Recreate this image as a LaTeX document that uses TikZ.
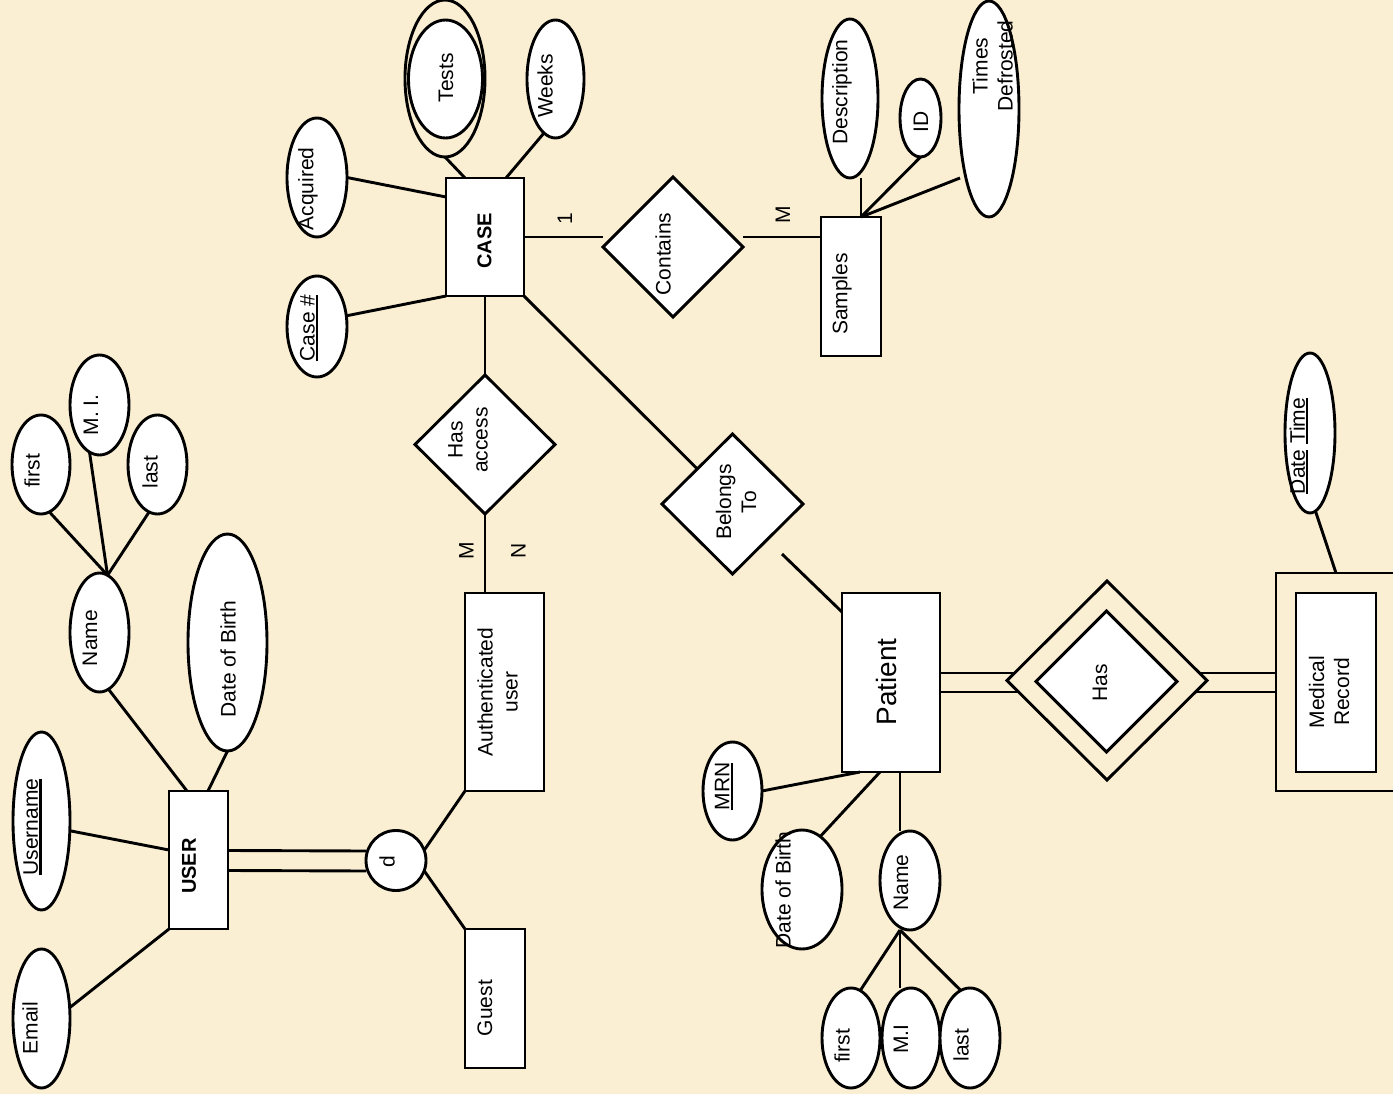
\documentclass[tikz,border=0pt]{standalone}
\usepackage{fontspec}
\setmainfont{Liberation Sans}
\usepackage{graphicx}
\usetikzlibrary{shapes.geometric}
\definecolor{bg}{RGB}{251,239,211}
\newcommand\myul[1]{\setbox0\hbox{#1}\rlap{\rule[-3.6pt]{\wd0}{2.2pt}}\box0\relax}
\newcommand\fs{\fontsize{21pt}{25pt}\selectfont}
\begin{document}
\begin{tikzpicture}[x=1pt,y=-1pt,
  ln/.style={line width=2.9pt},
  attr/.style={ellipse, draw, line width=2.9pt, fill=white, inner sep=0pt, outer sep=0pt},
  ent/.style={rectangle, draw, line width=2.9pt, fill=white, inner sep=0pt, outer sep=0pt},
  rel/.style={diamond, draw, line width=2.9pt, fill=white, inner sep=0pt, outer sep=0pt},
  lbl/.style={rotate=90, inner sep=0pt, font=\fs, align=center, text=black},
  ]
\useasboundingbox (0,0) rectangle (1393,1094);
\clip (0,0) rectangle (1393,1094);
\fill[bg] (0,0) rectangle (1393,1094);

% ---------- attributes (ellipses) ----------
\node[attr, fill=none, minimum width=80pt, minimum height=157pt] (testsout) at (445,78.5) {};
\node[attr, minimum width=74pt, minimum height=118pt] (tests) at (445.5,79) {};
\node[attr, minimum width=57pt, minimum height=118pt] (weeks) at (555.5,79) {};
\node[attr, minimum width=60pt, minimum height=119pt] (acq) at (317,177.5) {};
\node[attr, minimum width=60pt, minimum height=101pt] (casenum) at (317,326.5) {};
\node[attr, minimum width=56pt, minimum height=159pt] (desc) at (850,98.5) {};
\node[attr, minimum width=41pt, minimum height=78pt] (sid) at (920.5,118) {};
\node[attr, minimum width=60pt, minimum height=216pt] (times) at (989,109) {};
\node[attr, minimum width=58pt, minimum height=99pt] (ufirst) at (41,464.5) {};
\node[attr, minimum width=59pt, minimum height=100pt] (umi) at (99.5,405) {};
\node[attr, minimum width=59pt, minimum height=99pt] (ulast) at (157.5,464.5) {};
\node[attr, minimum width=59pt, minimum height=119pt] (uname) at (99.5,632.5) {};
\node[attr, minimum width=79pt, minimum height=217pt] (udob) at (227.5,642.5) {};
\node[attr, minimum width=57pt, minimum height=178pt] (uusername) at (41.5,821) {};
\node[attr, minimum width=57pt, minimum height=139pt] (uemail) at (41.5,1018.5) {};
\node[attr, minimum width=59pt, minimum height=98pt] (mrn) at (732.5,791) {};
\node[attr, minimum width=80pt, minimum height=119pt] (pdob) at (802,889.5) {};
\node[attr, minimum width=60pt, minimum height=99pt] (pname) at (910,880.5) {};
\node[attr, minimum width=58pt, minimum height=100pt] (pfirst) at (851,1038) {};
\node[attr, minimum width=58pt, minimum height=100pt] (pmi) at (911,1038) {};
\node[attr, minimum width=60pt, minimum height=100pt] (plast) at (970,1038) {};
\node[attr, minimum width=50pt, minimum height=160pt] (dtime) at (1310,433) {};
\node[circle, draw, line width=2.9pt, fill=white, inner sep=0pt, outer sep=0pt, minimum size=60pt] (disj) at (396,860.5) {};

% ---------- entities ----------
\node[ent, minimum width=78pt, minimum height=118pt] (case) at (485,237) {};
\node[ent, minimum width=60pt, minimum height=139pt] (samples) at (851,286.5) {};
\node[ent, minimum width=59pt, minimum height=138pt] (user) at (198.5,860) {};
\node[ent, minimum width=79pt, minimum height=198pt] (auth) at (504.5,692) {};
\node[ent, minimum width=60pt, minimum height=139pt] (guest) at (495,998.5) {};
\node[ent, minimum width=98pt, minimum height=179pt] (patient) at (891,682.5) {};
\node[ent, fill=none, minimum width=144pt, minimum height=218pt] (mrout) at (1348,682) {};
\node[ent, minimum width=80pt, minimum height=179pt] (mr) at (1336,682.5) {};

% ---------- relationships ----------
\node[rel, minimum width=140pt, minimum height=140pt] (contains) at (673,247) {};
\node[rel, minimum width=140pt, minimum height=139pt] (hasacc) at (485,444.5) {};
\node[rel, minimum width=141pt, minimum height=140pt] (belongs) at (732.5,504) {};
\node[rel, fill=none, minimum width=200pt, minimum height=199pt] (hasout) at (1107,680.5) {};
\node[rel, minimum width=141pt, minimum height=141pt] (hasin) at (1106.5,681.5) {};

% ---------- texts ----------
\node[lbl] (t1) at (484.5,241) {\fontsize{20pt}{24pt}\selectfont\bfseries CASE};
\node[lbl] (t2) at (446,78) {Tests};
\node[lbl] (t3) at (545,86) {Weeks};
\node[lbl] (t4) at (308,189) {Acquired};
\node[lbl] (t5) at (309,328) {\myul{Case \#}};
\node[lbl] (t6) at (663,254) {Contains};
\node[lbl] (t7) at (565,219) {1};
\node[lbl] (t8) at (783,214.5) {M};
\node[lbl] (t9) at (842,294) {Samples};
\node[lbl] (t10) at (842,92) {Description};
\node[lbl] (t11) at (921,122) {ID};
\node[lbl] (t12) at (992.5,66) {Times\\Defrosted};
\node[lbl] (t13) at (468,440) {Has\\access};
\node[lbl] (t14) at (466.5,550.5) {M};
\node[lbl] (t15) at (518.5,551) {N};
\node[lbl] (t16) at (497.5,692) {Authenticated\\user};
\node[lbl] (t17) at (736,502) {Belongs\\To};
\node[lbl] (t18) at (189,866) {\fontsize{20pt}{24pt}\selectfont\bfseries USER};
\node[lbl] (t19) at (387,862) {d};
\node[lbl] (t20) at (485,1008) {Guest};
\node[lbl] (t21) at (32.5,827) {\myul{Username}};
\node[lbl] (t22) at (30,1028) {Email};
\node[lbl] (t23) at (32,471) {first};
\node[lbl] (t24) at (91,415) {M. I.};
\node[lbl] (t25) at (150,472) {last};
\node[lbl] (t26) at (90,638) {Name};
\node[lbl] (t27) at (228,659) {Date of Birth};
\node[lbl] (t28) at (886,682) {\fontsize{28pt}{32pt}\selectfont Patient};
\node[lbl] (t29) at (724,786.5) {\myul{MRN}};
\node[lbl] (t30) at (783,890) {Date of Birth};
\node[lbl] (t31) at (901,882.5) {Name};
\node[lbl] (t32) at (842,1046) {first};
\node[lbl] (t33) at (901,1039) {M.I};
\node[lbl] (t34) at (961,1045) {last};
\node[lbl] (t35) at (1100,682.5) {Has};
\node[lbl] (t36) at (1329,692) {Medical\\Record};
\node[lbl] (t37) at (1299,446) {\myul{Date}\ \myul{Time}};

% ---------- connectors ----------
\draw[ln] (testsout.south) -- ([xshift=19pt]case.north west);
\draw[ln] (weeks.-102) -- ([xshift=-18pt]case.north east);
\draw[ln] (acq.east) -- ([yshift=-19pt]case.north west);
\draw[ln] (casenum.20) -- (case.south west);
\draw[ln] (case.east) -- ([yshift=10pt]contains.west);
\draw[ln] ([yshift=10pt]contains.east) -- ([yshift=-20pt]samples.north west);
\coordinate (sj) at ([xshift=40pt]samples.north west);
\coordinate (tde) at ([xshift=-29pt,yshift=-69pt]times.center);
\draw[ln] (sj) -- (sj |- desc.south);
\draw[ln] (sj) -- (sid.south);
\draw[ln] (sj) -- (tde);
\draw[ln] (case.south) -- (hasacc.north);
\draw[ln] (hasacc.south) -- (hasacc.south |- auth.north);
\draw[ln] (case.south east) -- (belongs);
\coordinate (bt) at ([xshift=49.5pt,yshift=-50pt]belongs.center);
\draw[ln] (bt) -- ([yshift=-19pt]patient.north west);

\draw[ln] (uusername.-19) -- ([yshift=-59pt]user.north west);
\draw[ln] (uemail.21) -- (user.south west);
\draw[ln] (uname.-81) -- ([xshift=18pt]user.north west);
\draw[ln] (udob.south) -- ([xshift=-20pt]user.north east);
\draw[ln] ([yshift=9.5pt]user.east) -- ([yshift=9.5pt]disj.west);
\draw[ln] ([yshift=-10.5pt]user.east) -- ([yshift=-10.5pt]disj.west);
\draw[ln] (disj.20) -- (auth.south west);
\draw[ln] (disj.-20) -- (guest.north west);
\draw[ln] (ufirst.-80) -- (uname.82);
\draw[ln] (umi.-102) -- (uname.82);
\draw[ln] (ulast.-100) -- (uname.82);

\draw[ln] (mrn.east) -- ([xshift=18pt]patient.south west);
\draw[ln] (pdob.71) -- ([xshift=38pt]patient.south west);
\coordinate (pn) at ([xshift=58pt]patient.south west);
\draw[ln] (pn) -- (pn |- pname.north);
\coordinate (pj) at ([xshift=-10pt]pname.south);
\draw[ln] (pj) -- (pfirst.79);
\draw[ln] (pj) -- (pj |- pmi.north);
\draw[ln] (pj) -- (plast.101);

\draw[ln] ([yshift=9.5pt]patient.east) -- ([xshift=7.5pt,yshift=7.5pt]hasout.west);
\draw[ln] ([yshift=-9.5pt]patient.east) -- ([xshift=11.5pt,yshift=-11.5pt]hasout.west);
\draw[ln] ([xshift=-7.5pt,yshift=7.5pt]hasout.east) -- ([yshift=9pt]mrout.west);
\draw[ln] ([xshift=-11.5pt,yshift=-11.5pt]hasout.east) -- ([yshift=-10pt]mrout.west);
\draw[ln] (dtime.-86) -- ([xshift=60pt]mrout.north west);
\end{tikzpicture}
\end{document}
